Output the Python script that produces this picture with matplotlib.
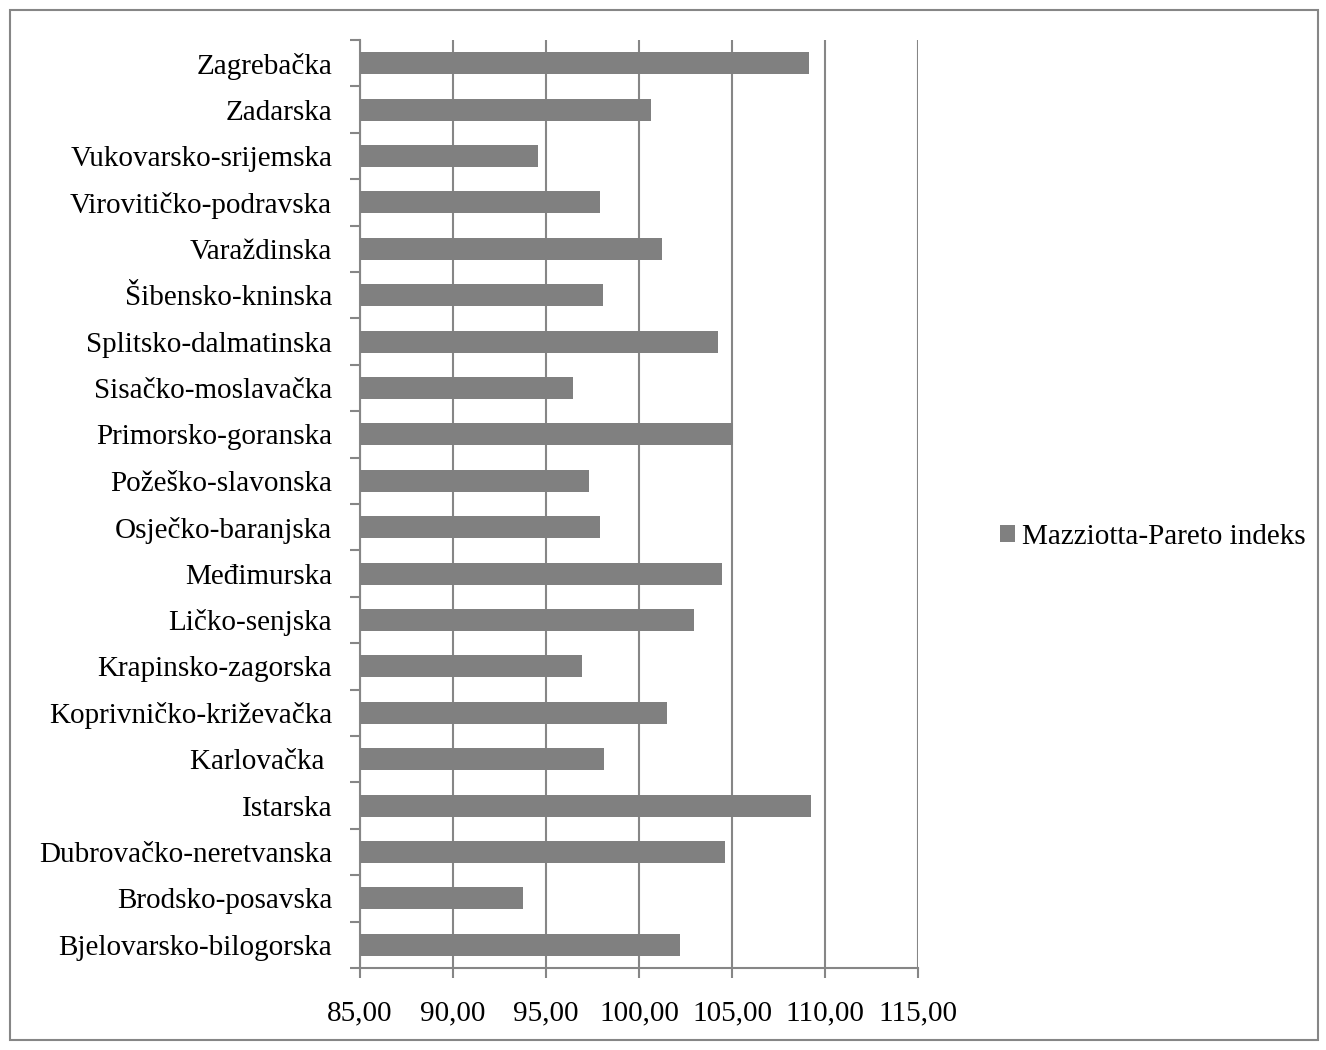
import matplotlib.pyplot as plt
from matplotlib.patches import Rectangle
from matplotlib.ticker import FuncFormatter

zupanije = ['Bjelovarsko-bilogorska', 'Brodsko-posavska', 'Dubrovačko-neretvanska',
            'Istarska', 'Karlovačka ', 'Koprivničko-križevačka', 'Krapinsko-zagorska',
            'Ličko-senjska', 'Međimurska', 'Osječko-baranjska', 'Požeško-slavonska',
            'Primorsko-goranska', 'Sisačko-moslavačka', 'Splitsko-dalmatinska',
            'Šibensko-kninska', 'Varaždinska', 'Virovitičko-podravska',
            'Vukovarsko-srijemska', 'Zadarska', 'Zagrebačka']
mp_indeks = [102.20, 93.79, 104.60, 109.24, 98.13, 101.53, 96.92,
             102.96, 104.44, 97.89, 97.31, 105.04, 96.45, 104.23,
             98.05, 101.23, 97.89, 94.57, 100.65, 109.15]
x_ticks = [85, 90, 95, 100, 105, 110, 115]

plt.rcParams['font.family'] = ['Liberation Serif', 'DejaVu Serif']
siva = '#808080'
linija = '#868686'
fs = 21

fig = plt.figure(figsize=(13.26, 10.5), dpi=100)
ax = fig.add_axes([360 / 1326, 1 - 968 / 1050, 558 / 1326, 928 / 1050])

y = list(range(len(zupanije)))
ax.barh(y, mp_indeks, height=0.47, color=siva, left=0, zorder=3,
        label='Mazziotta-Pareto indeks')
ax.set_xlim(85, 115)
ax.set_ylim(-0.5, len(zupanije) - 0.5)

ax.set_xticks(x_ticks)
ax.xaxis.set_major_formatter(FuncFormatter(lambda v, p: f'{v:.2f}'.replace('.', ',')))
ax.grid(axis='x', color=linija, linewidth=1.5, zorder=0)

# category ticks between bars, labels at bar centres
ax.set_yticks([i - 0.5 for i in range(len(zupanije) + 1)])
ax.set_yticklabels([])
ax.set_yticks(y, minor=True)
ax.set_yticklabels(zupanije, minor=True)
ax.tick_params(axis='y', which='major', length=7, width=1.5, color=linija)
ax.tick_params(axis='y', which='minor', length=0, pad=20, labelsize=fs)
ax.tick_params(axis='x', length=7, width=1.5, color=linija, pad=16, labelsize=fs)

for s in ['top', 'right']:
    ax.spines[s].set_visible(False)
for s in ['left', 'bottom']:
    ax.spines[s].set_color(linija)
    ax.spines[s].set_linewidth(1.5)

leg = ax.legend(loc='center left', bbox_to_anchor=(974 / 1326, 1 - 537 / 1050),
                bbox_transform=fig.transFigure, frameon=False, fontsize=fs,
                handlelength=0.5, handleheight=0.5, handletextpad=0.25)

fig.patches.append(Rectangle((10 / 1326, 10 / 1050), 1308 / 1326, 1030 / 1050,
                             transform=fig.transFigure, fill=False,
                             edgecolor=linija, linewidth=1.5))

fig.savefig('out.png', dpi=100)
